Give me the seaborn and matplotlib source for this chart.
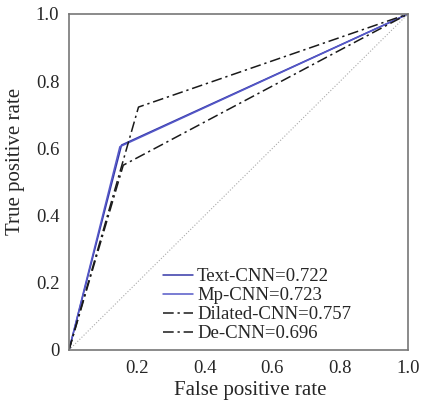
import matplotlib
matplotlib.use("Agg")
import matplotlib.pyplot as plt
import seaborn as sns
import pandas as pd

# ROC points (fpr, tpr)
models = ["Text-CNN=0.722", "Mp-CNN=0.723", "Dilated-CNN=0.757", "De-CNN=0.696"]
fpr_text = [0.0, 0.155, 1.0]
tpr_text = [0.0, 0.61, 1.0]
fpr_mp = [0.0, 0.150, 1.0]
tpr_mp = [0.0, 0.605, 1.0]
fpr_dil = [0.0, 0.205, 1.0]
tpr_dil = [0.0, 0.723, 1.0]
fpr_de = [0.0, 0.160, 1.0]
tpr_de = [0.0, 0.550, 1.0]
diag = [0.0, 1.0]
xticks = [0.2, 0.4, 0.6, 0.8, 1.0]
yticks = [0, 0.2, 0.4, 0.6, 0.8, 1.0]
yticklabels = ["0", "0.2", "0.4", "0.6", "0.8", "1.0"]

sns.set_style("white")
plt.rcParams["font.family"] = ["Liberation Serif", "DejaVu Serif"]

fig = plt.figure(figsize=(4.23, 4.05), dpi=100)
ax = fig.add_axes([69 / 423, 1 - 350 / 405, 339 / 423, 336 / 405])

series = [
    (fpr_text, tpr_text, models[0], "#3538a8", "-"),
    (fpr_mp, tpr_mp, models[1], "#5558c8", "-"),
    (fpr_dil, tpr_dil, models[2], "#1a1a1a", "-."),
    (fpr_de, tpr_de, models[3], "#1a1a1a", "-."),
]
for fx, ty, lab, col, ls in series:
    df = pd.DataFrame({"x": fx, "y": ty})
    sns.lineplot(data=df, x="x", y="y", ax=ax, color=col, lw=1.1,
                 label=lab, sort=False, linestyle=ls, estimator=None)
for ln in ax.lines[2:4]:
    ln.set_dashes((7, 2.5, 1.5, 2.5))

ddf = pd.DataFrame({"x": diag, "y": diag})
sns.lineplot(data=ddf, x="x", y="y", ax=ax, color="#aaaaaa", lw=0.8,
             linestyle=":", estimator=None)

ax.set_xlim(0, 1)
ax.set_ylim(0, 1)
ax.set_xticks(xticks)
ax.set_xticklabels([f"{v:.1f}" for v in xticks])
ax.set_yticks(yticks)
ax.set_yticklabels(yticklabels)
ax.tick_params(length=0, labelsize=13.5, pad=7)
ax.set_xlabel("False positive rate", fontsize=15)
ax.set_ylabel("True positive rate", fontsize=15)
ax.xaxis.set_label_coords(0.534, -0.092)
ax.yaxis.set_label_coords(-0.13, 0.56)
for s in ax.spines.values():
    s.set_color("#777777")
    s.set_linewidth(1.2)

leg = ax.legend(loc="lower left", bbox_to_anchor=(0.245, -0.01), frameon=False,
                fontsize=13.5, handlelength=1.6, handletextpad=0.2,
                labelspacing=0.1, borderaxespad=0.2)

fig.savefig("out.png", dpi=100)
